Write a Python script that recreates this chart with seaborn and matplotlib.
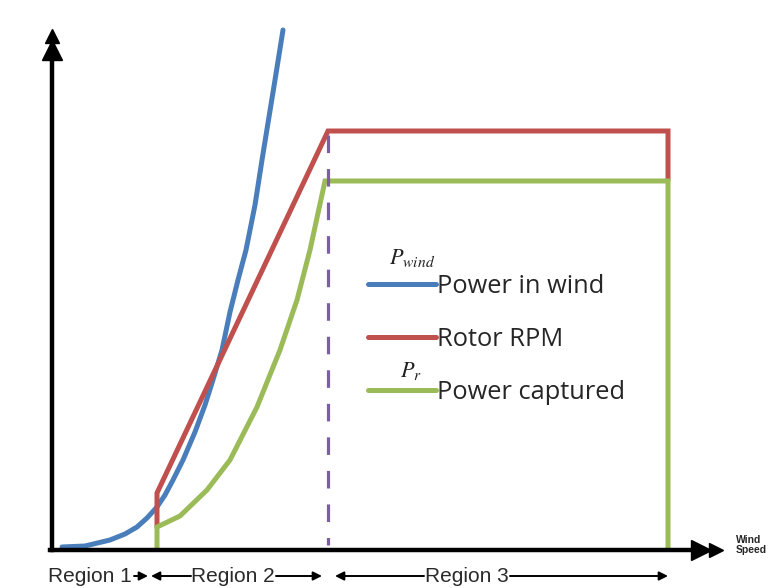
import matplotlib
matplotlib.use("Agg")
import matplotlib.pyplot as plt
import seaborn as sns
import pandas as pd

sns.set_theme(style="white")
plt.rcParams['mathtext.fontset'] = 'stix'

# Data in chart units (x: wind speed position, y: height above the x axis)
wind_x = [62, 85, 110, 125, 137, 147, 157, 165, 173, 183, 195, 205, 212, 222, 230, 238, 246, 255, 262, 268, 275, 283]
wind_y = [1, 2, 8, 14, 21, 30, 41, 53, 68, 88, 116, 143, 165, 198, 236, 268, 298, 343, 388, 425, 468, 518]

rpm_x = [157, 157, 328, 668, 668]
rpm_y = [21, 55, 417, 417, 368]

cap_x = [157, 157, 180, 207, 230, 257, 280, 297, 310, 325, 668, 668]
cap_y = [0, 21, 32, 58, 88, 141, 198, 248, 298, 367, 367, 0]

rated_x = [328, 328]
rated_y = [413, 3]

labels = ["Power in wind", "Rotor RPM", "Power captured"]
region_labels = ["Region 1", "Region 2", "Region 3"]
colors = ["#4A7EBB", "#C0504D", "#9BBB59"]

fig = plt.figure(figsize=(7.68, 5.88), dpi=100)
ax = fig.add_axes([0, 0, 1, 1])
ax.set_xlim(0, 768)
ax.set_ylim(-40, 548)
ax.set_axis_off()

series = [(wind_x, wind_y), (rpm_x, rpm_y), (cap_x, cap_y)]
for (xs, ys), lab, c in zip(series, labels, colors):
    df = pd.DataFrame({"x": xs, "y": ys})
    sns.lineplot(data=df, x="x", y="y", sort=False, estimator=None, color=c,
                 linewidth=3.6, ax=ax, label=lab, solid_joinstyle="miter")

df = pd.DataFrame({"x": rated_x, "y": rated_y})
sns.lineplot(data=df, x="x", y="y", sort=False, estimator=None, color="#7B5EA7",
             linewidth=2.3, dashes=False, ax=ax, legend=False)
ax.lines[-1].set_dashes([5.5, 5])

# axes with arrowheads
ax.plot([52, 52], [-2, 500], color="black", lw=3.2, solid_capstyle="projecting")
ax.plot([50, 700], [-2, -2], color="black", lw=3.2, solid_capstyle="projecting")
ax.plot([52], [498], marker="^", color="black", markersize=15)
ax.plot([52], [512], marker="^", color="black", markersize=10)
ax.plot([701], [-2], marker=">", color="black", markersize=15)
ax.plot([716], [-2], marker=">", color="black", markersize=10)

# legend
leg = ax.legend(loc="upper left", bbox_to_anchor=(368 / 768, 1 - 274 / 588), frameon=False,
                handlelength=2.68, handletextpad=0.05, labelspacing=1.1,
                prop={"family": "Open Sans", "size": 18.3}, borderpad=0, borderaxespad=0)
for t in leg.get_texts():
    t.set_color("#262626")

ax.text(412, 548 - 258, r"$P_{wind}$", fontsize=16, ha="center", va="center", color="#222222")
ax.text(411, 548 - 371, r"$P_r$", fontsize=16, ha="center", va="center", color="#222222")

# region annotations
ty = 548 - 576
rfont = {"family": "Liberation Sans", "size": 15, "color": "#2a2a2a"}
ax.text(48, ty, region_labels[0], ha="left", va="center", **rfont)
ax.text(233, ty, region_labels[1], ha="center", va="center", **rfont)
ax.text(467, ty, region_labels[2], ha="center", va="center", **rfont)
arr = dict(arrowstyle="-|>", color="black", lw=1.4, mutation_scale=13, shrinkA=0, shrinkB=0)
for x0, x1 in [(134, 148), (191, 151), (276, 322), (424, 335), (510, 668)]:
    ax.annotate("", xy=(x1, ty), xytext=(x0, ty), arrowprops=arr)

ax.text(736, 548 - 545, "Wind\nSpeed", ha="left", va="center", fontsize=7.5,
        fontweight="bold", family="Liberation Sans", linespacing=1.1)

fig.savefig("out.png", dpi=100)
